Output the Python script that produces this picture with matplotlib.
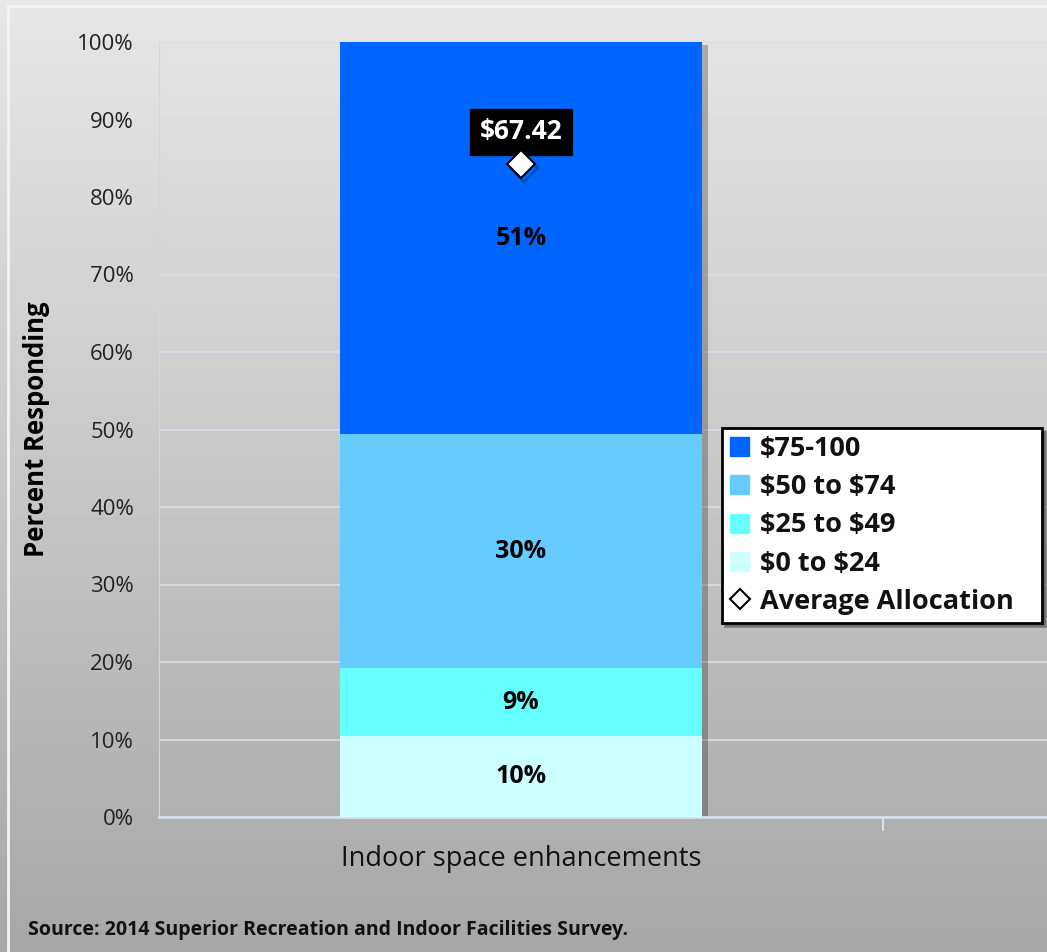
import numpy as np
import matplotlib.pyplot as plt
import matplotlib.patheffects as pe
from matplotlib.lines import Line2D
from matplotlib.patches import Patch

plt.rcParams['font.family'] = ['Open Sans', 'DejaVu Sans']

# data
category = ['Indoor space enhancements']
ranges = ['$0 to $24', '$25 to $49', '$50 to $74', '$75-100']
shares = [10.4, 8.8, 30.2, 50.6]
colors = ['#ccffff', '#66ffff', '#66ccff', '#0066ff']
avg_allocation = 67.42
ticks = [0, 10, 20, 30, 40, 50, 60, 70, 80, 90, 100]

W, H = 1047, 952
fig = plt.figure(figsize=(W / 100, H / 100), dpi=100)

# gradient background
bg = fig.add_axes([0, 0, 1, 1], zorder=-10)
grad = np.linspace(0.905, 0.655, 256).reshape(-1, 1)
bg.imshow(grad, aspect='auto', cmap='gray', vmin=0, vmax=1, extent=[0, 1, 0, 1])
bg.plot([8 / W, 8 / W], [0, 1 - 6 / H], color='#f4f4f4', lw=2)
bg.plot([8 / W, 1], [1 - 6 / H, 1 - 6 / H], color='#f4f4f4', lw=2)
bg.set_xlim(0, 1)
bg.set_ylim(0, 1)
bg.axis('off')

left, right = 159, 1047
y0, y100 = 817, 42
ax = fig.add_axes([left / W, 1 - y0 / H, (right - left) / W, (y0 - y100) / H])
ax.patch.set_alpha(0)

x = np.arange(len(category))

# one shadow behind the whole stack
ax.bar(x, [sum(shares)], width=0.5, color=colors[-1], zorder=2,
       path_effects=[pe.SimplePatchShadow(offset=(4, -2), shadow_rgbFace='black', alpha=0.25), pe.Normal()])

bottom = np.zeros(len(category))
for v, c in zip(shares, colors):
    bars = ax.bar(x, [v], bottom=bottom, width=0.5, color=c, zorder=3)
    for b in bars:
        ax.text(b.get_x() + b.get_width() / 2, b.get_y() + v / 2, f'{v:.0f}%',
                ha='center', va='center', fontsize=18, fontweight='bold', color='black', zorder=5)
    bottom = bottom + v

ax.set_xlim(-0.5, 0.5 + (right - left - 724) / 724)
ax.set_ylim(0, 100)
ax.set_yticks(ticks)
ax.set_yticklabels([f'{t}%' for t in ticks], fontsize=16, color='#222222')
ax.set_xticks(x)
ax.set_xticklabels(category, fontsize=19.5, color='#111111')
ax.tick_params(axis='x', length=0, pad=20)
ax.tick_params(axis='y', length=0, pad=18)
ax.set_xticks([0.5], minor=True)
ax.tick_params(axis='x', which='minor', length=10, color='#d8e0ea', width=1.5)
ax.grid(axis='y', color='#d4dfec', lw=1.2, zorder=0)
for s in ['top', 'right']:
    ax.spines[s].set_visible(False)
ax.spines['left'].set_color('#d6d6d6')
ax.spines['bottom'].set_color('#d8e0ea')
ax.spines['bottom'].set_linewidth(2)
ax.set_ylabel('Percent Responding', fontsize=18.5, fontweight='bold', labelpad=20)

# average allocation on a hidden secondary scale
ax2 = ax.twinx()
ax2.set_ylim(0, 80)
ax2.axis('off')
ax2.plot(x, [avg_allocation], marker='D', ls='none', markersize=14, mfc='white', mec='black',
         mew=1.5, zorder=6,
         path_effects=[pe.SimpleLineShadow(offset=(2, -3), alpha=0.3), pe.Normal()])
ax2.annotate(f'\\${avg_allocation:.2f}', (x[0], avg_allocation), xytext=(0, 23),
             textcoords='offset points', ha='center', va='center', fontsize=19, fontweight='bold',
             color='white', bbox=dict(boxstyle='square,pad=0.35', fc='black', ec='black'))

handles = [Patch(color=c) for c in colors[::-1]]
handles.append(Line2D([], [], marker='D', ls='none', markersize=10, mfc='white', mec='black', mew=1.5))
labels = [r.replace('$', r'\$') for r in ranges[::-1]] + ['Average Allocation']
leg = fig.legend(handles, labels, loc='upper left',
                 bbox_to_anchor=(722 / W, 1 - 428 / H, 320 / W, 0), mode='expand',
                 frameon=True, fancybox=False, shadow=True, handlelength=0.7, handleheight=0.7,
                 handletextpad=0.4, labelspacing=0.45, borderpad=0.3, borderaxespad=0,
                 prop={'weight': 'bold', 'size': 19.5})
leg.get_frame().set_edgecolor('black')
leg.get_frame().set_linewidth(2)
for t in leg.get_texts():
    t.set_color('#111111')

fig.text(28 / W, 1 - 930 / H, 'Source: 2014 Superior Recreation and Indoor Facilities Survey.',
         fontsize=14, fontweight='bold', va='center', ha='left', color='#111111')

fig.savefig('out.png', dpi=100)
